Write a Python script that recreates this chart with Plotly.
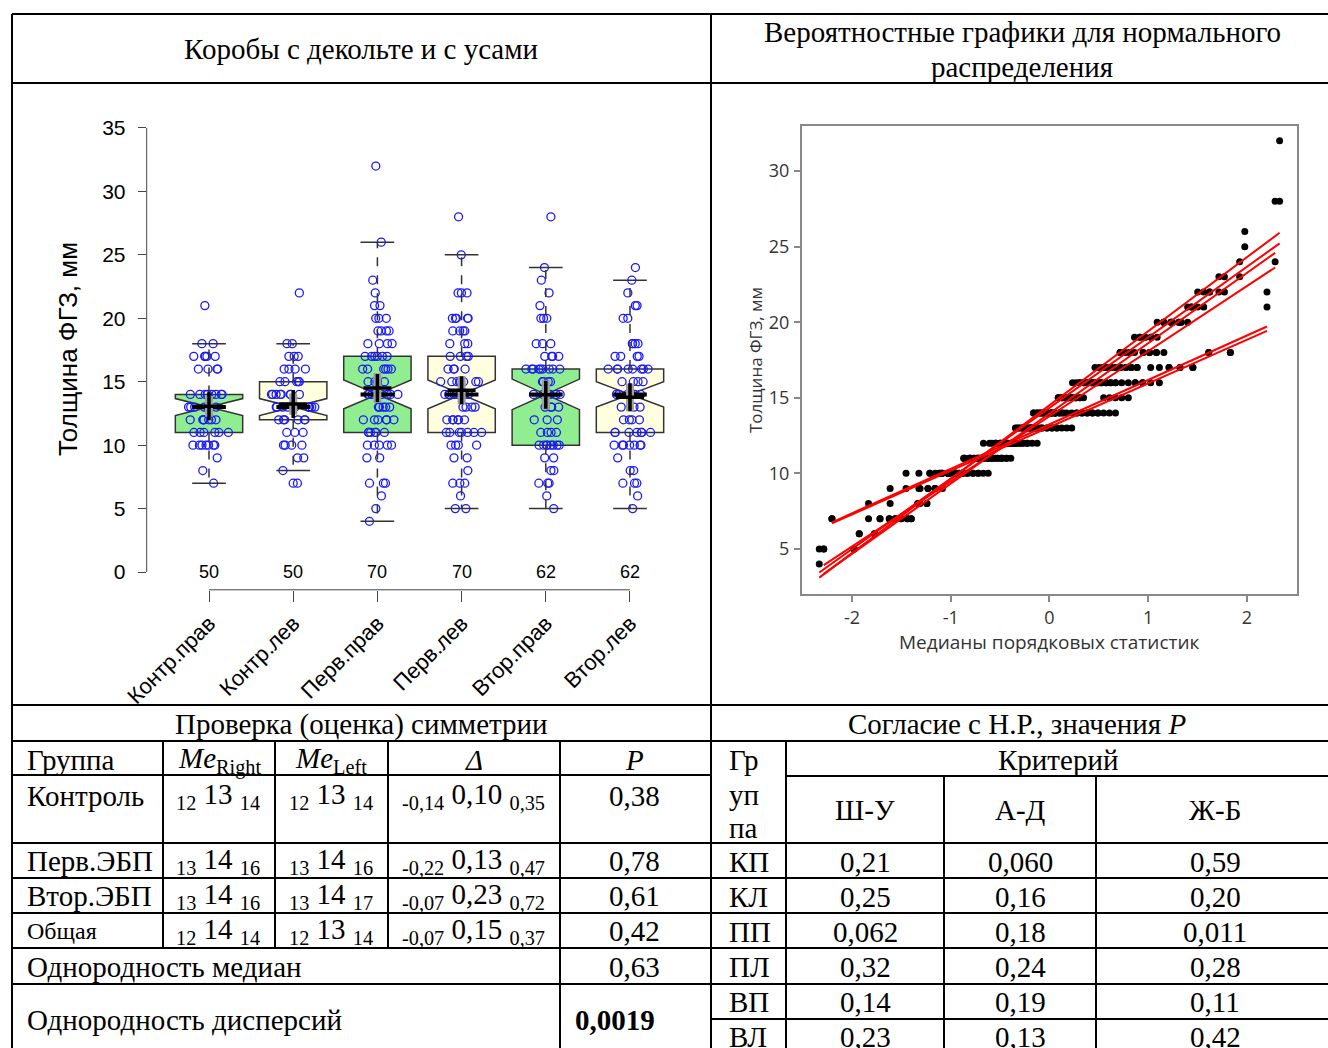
import math
from statistics import NormalDist
import plotly.graph_objects as go

W, H = 1328, 1048
def px(x): return x / W
def py(y): return 1 - y / H

# ---------------- data ----------------
groups = ["Контр.прав", "Контр.лев", "Перв.прав", "Перв.лев", "Втор.прав", "Втор.лев"]

kontr_prav = [7, 8, 9] + [10]*7 + [11]*6 + [12]*7 + [13]*7 + [14]*8 + [16]*4 + [17]*5 + [18]*2 + [21]
kontr_lev = [7, 7, 8, 9, 9] + [10]*4 + [11]*3 + [12]*6 + [13]*9 + [14]*8 + [15]*5 + [16]*4 + [17]*3 + [18]*2 + [22]
perv_prav = [4, 5, 6, 7, 7, 7, 9, 9] + [10]*5 + [11]*6 + [12]*6 + [13]*5 + [14]*7 + [15]*4 + [16]*6 + [17]*6 \
    + [18]*4 + [19]*4 + [20]*3 + [21]*2 + [22, 23, 26, 32]
perv_lev = [5, 5, 6, 7, 7, 7, 8, 9, 9] + [10]*4 + [11]*7 + [12]*6 + [13]*4 + [14]*7 + [15]*8 + [16]*4 + [17]*4 \
    + [18]*3 + [19]*4 + [20]*5 + [22]*3 + [25, 28]
vtor_prav = [5, 6, 7, 7, 7, 8, 8, 9, 9] + [10]*8 + [11]*4 + [12]*3 + [13]*4 + [14]*6 + [15]*4 + [16]*9 + [17]*4 \
    + [18]*3 + [20]*3 + [21, 22, 23, 24, 28]
vtor_lev = [5, 6, 7, 7, 7, 8, 8, 9] + [10]*7 + [11]*7 + [12]*4 + [13]*3 + [14]*6 + [15]*4 + [16]*8 + [17]*4 \
    + [18]*4 + [20]*2 + [21]*2 + [22, 23, 24]

values = [kontr_prav, kontr_lev, perv_prav, perv_lev, vtor_prav, vtor_lev]
counts = [len(v) for v in values]

y_ticks = [0, 5, 10, 15, 20, 25, 30, 35]
qq_xticks = [-2, -1, 0, 1, 2]
qq_yticks = [5, 10, 15, 20, 25, 30]

# table texts
header_left = "Коробы с декольте и с усами"
header_right = ["Вероятностные графики для нормального", "распределения"]
sym_title = "Проверка (оценка) симметрии"
sym_cols = ["Группа", "<i>Me</i><sub>Right</sub>", "<i>Me</i><sub>Left</sub>", "<i>Δ</i>", "<i>P</i>"]
sym_groups = ["Контроль", "Перв.ЭБП", "Втор.ЭБП", "Общая"]
me_right = [("12", "13", "14"), ("13", "14", "16"), ("13", "14", "16"), ("12", "14", "14")]
me_left = [("12", "13", "14"), ("13", "14", "16"), ("13", "14", "17"), ("12", "13", "14")]
delta = [("-0,14", "0,10", "0,35"), ("-0,22", "0,13", "0,47"), ("-0,07", "0,23", "0,72"), ("-0,07", "0,15", "0,37")]
p_sym = ["0,38", "0,78", "0,61", "0,42"]
hom_median_label, hom_median_p = "Однородность медиан", "0,63"
hom_disp_label, hom_disp_p = "Однородность дисперсий", "0,0019"

norm_title = "Согласие с Н.Р., значения <i>P</i>"
norm_crit = "Критерий"
norm_cols = ["Ш-У", "А-Д", "Ж-Б"]
norm_groups = ["КП", "КЛ", "ПП", "ПЛ", "ВП", "ВЛ"]
p_sw = ["0,21", "0,25", "0,062", "0,32", "0,14", "0,23"]
p_ad = ["0,060", "0,16", "0,18", "0,24", "0,19", "0,13"]
p_jb = ["0,59", "0,20", "0,011", "0,28", "0,11", "0,42"]

# ---------------- statistics ----------------
def fivenum(v):
    s = sorted(v); n = len(s)
    n4 = math.floor((n + 3) / 2) / 2
    d = [1, n4, (n + 1) / 2, n + 1 - n4, n]
    return [0.5 * (s[math.floor(di) - 1] + s[math.ceil(di) - 1]) for di in d]

stats = []
for v in values:
    n = len(v)
    _, q1, med, q3, _ = fivenum(v)
    iqr = q3 - q1
    lo = min(x for x in v if x >= q1 - 1.5 * iqr)
    hi = max(x for x in v if x <= q3 + 1.5 * iqr)
    mean = sum(v) / n
    sd = math.sqrt(sum((x - mean) ** 2 for x in v) / (n - 1))
    z = 1.959964
    t = z + (z ** 3 + z) / (4 * (n - 1))
    ci = t * sd / math.sqrt(n)
    stats.append(dict(n=n, q1=q1, med=med, q3=q3, lo=lo, hi=hi, mean=mean, sd=sd,
                      ci=ci, notch=1.58 * iqr / math.sqrt(n)))

fig = go.Figure()

# ---------------- box plot ----------------
BW = 0.8
for idxs, col in [([0, 2, 4], "#90EE90"), ([1, 3, 5], "#FFFFE0")]:
    fig.add_trace(go.Box(
        x=[i + 1 for i in idxs],
        q1=[stats[i]["q1"] for i in idxs], median=[stats[i]["med"] for i in idxs],
        q3=[stats[i]["q3"] for i in idxs],
        lowerfence=[stats[i]["q1"] for i in idxs], upperfence=[stats[i]["q3"] for i in idxs],
        notchspan=[stats[i]["notch"] for i in idxs], notched=True, notchwidth=0.5,
        width=BW, fillcolor=col, line=dict(color="#333333", width=1.5),
        boxpoints=False, hoverinfo="skip", showlegend=False, xaxis="x", yaxis="y"))

# raw points, jittered by plotly
px_list, py_list = [], []
for i, v in enumerate(values):
    px_list += [i + 1] * len(v)
    py_list += v
fig.add_trace(go.Box(
    x=px_list, y=py_list, boxpoints="all", jitter=0.65, pointpos=0, width=BW,
    fillcolor="rgba(0,0,0,0)", line=dict(width=0, color="rgba(0,0,0,0)"),
    marker=dict(symbol="circle-open", size=8, color="#1a1aff", line=dict(width=1.3, color="#1a1aff")),
    hoverinfo="skip", showlegend=False, xaxis="x", yaxis="y"))

# whiskers (dashed) and caps
wx, wy, cx, cy = [], [], [], []
for i, s in enumerate(stats):
    xi = i + 1
    wx += [xi, xi, None, xi, xi, None]
    wy += [s["q3"], s["hi"], None, s["q1"], s["lo"], None]
    cx += [xi - BW / 4, xi + BW / 4, None, xi - BW / 4, xi + BW / 4, None]
    cy += [s["hi"], s["hi"], None, s["lo"], s["lo"], None]
fig.add_trace(go.Scatter(x=wx, y=wy, mode="lines", line=dict(color="#333333", width=1.5, dash="dash"),
                         hoverinfo="skip", showlegend=False, xaxis="x", yaxis="y"))
fig.add_trace(go.Scatter(x=cx, y=cy, mode="lines", line=dict(color="#333333", width=1.5),
                         hoverinfo="skip", showlegend=False, xaxis="x", yaxis="y"))

# thick medians
mx, my = [], []
for i, s in enumerate(stats):
    mx += [i + 1 - BW / 4, i + 1 + BW / 4, None]
    my += [s["med"], s["med"], None]
fig.add_trace(go.Scatter(x=mx, y=my, mode="lines", line=dict(color="black", width=4),
                         hoverinfo="skip", showlegend=False, xaxis="x", yaxis="y"))

# mean CI (gray) and mean cross
gx, gy = [], []
for i, s in enumerate(stats):
    gx += [i + 1, i + 1, None]
    gy += [s["mean"] - s["ci"], s["mean"] + s["ci"], None]
fig.add_trace(go.Scatter(x=gx, y=gy, mode="lines", line=dict(color="#a0a0a0", width=8),
                         hoverinfo="skip", showlegend=False, xaxis="x", yaxis="y"))
fig.add_trace(go.Scatter(x=[i + 1 for i in range(6)], y=[s["mean"] for s in stats], mode="markers",
                         marker=dict(symbol="cross-thin", size=20, color="black",
                                     line=dict(width=3.5, color="black")),
                         hoverinfo="skip", showlegend=False, xaxis="x", yaxis="y"))

# ---------------- normal probability plot ----------------
nd = NormalDist()
qx, qy, lx, ly = [], [], [], []
for v, s in zip(values, stats):
    srt = sorted(v); n = len(srt)
    mn = 0.5 ** (1 / n)
    ms = [1 - mn] + [(i - 0.3175) / (n + 0.365) for i in range(2, n)] + [mn]
    zs = [nd.inv_cdf(m) for m in ms]
    qx += zs; qy += srt
    lx += [zs[0], zs[-1], None]
    ly += [s["mean"] + s["sd"] * zs[0], s["mean"] + s["sd"] * zs[-1], None]
fig.add_trace(go.Scatter(x=qx, y=qy, mode="markers", marker=dict(color="black", size=7),
                         hoverinfo="skip", showlegend=False, xaxis="x2", yaxis="y2"))
fig.add_trace(go.Scatter(x=lx, y=ly, mode="lines", line=dict(color="#ff0000", width=2),
                         hoverinfo="skip", showlegend=False, xaxis="x2", yaxis="y2"))

# ---------------- layout ----------------
sans = "Liberation Sans"
serif = "Liberation Serif"
qqfont = "Open Sans"

fig.update_layout(
    width=W, height=H, autosize=False, margin=dict(l=0, r=0, t=0, b=0, pad=0, autoexpand=False),
    paper_bgcolor="white", plot_bgcolor="white", showlegend=False, boxmode="overlay",
    xaxis=dict(domain=[px(146.7), px(692.3)], range=[0.26, 6.74], anchor="y", automargin=False,
               tickmode="array", tickvals=[1, 2, 3, 4, 5, 6], ticktext=groups, tickangle=-45,
               ticks="outside", ticklen=11, tickcolor="#444", tickwidth=1,
               tickfont=dict(family=sans, size=22, color="black"),
               showgrid=False, zeroline=False, showline=False),
    yaxis=dict(domain=[py(589.8), py(110.2)], range=[-1.4, 36.4], anchor="x", automargin=False,
               tickmode="array", tickvals=y_ticks, ticks="outside", ticklen=8, tickcolor="#444",
               tickwidth=1, ticklabelstandoff=8,
               tickfont=dict(family=sans, size=21, color="black"),
               showgrid=False, zeroline=False, showline=False),
    xaxis2=dict(domain=[px(802), px(1297)], range=[-2.507, 2.508], anchor="y2", automargin=False,
                tickmode="array", tickvals=qq_xticks, ticktext=[str(t) for t in qq_xticks],
                ticks="outside", ticklen=6, tickcolor="#888", tickwidth=1.5, ticklabelstandoff=0,
                tickfont=dict(family=qqfont, size=18, color="#333"),
                showline=True, mirror=True, linecolor="#888", linewidth=2,
                showgrid=False, zeroline=False),
    yaxis2=dict(domain=[py(594), py(126)], range=[2.02, 32.98], anchor="x2", automargin=False,
                tickmode="array", tickvals=qq_yticks, ticks="outside", ticklen=6, tickcolor="#888",
                tickwidth=1.5, ticklabelstandoff=1, tickfont=dict(family=qqfont, size=18, color="#333"),
                showline=True, mirror=True, linecolor="#888", linewidth=2,
                showgrid=False, zeroline=False),
)

shapes = []
# box-plot axis lines (R style)
shapes.append(dict(type="line", xref="x domain", yref="y", x0=0, x1=0, y0=0, y1=35,
                   line=dict(color="#444", width=1)))
shapes.append(dict(type="line", xref="x", yref="y domain", x0=1, x1=6, y0=0, y1=0,
                   line=dict(color="#444", width=1)))

# table grid
hlines = [(14, 12, 1328), (83, 12, 1328), (705, 12, 1328), (741, 12, 1328),
          (775, 12, 711), (776, 786, 1328), (843, 12, 1328), (878, 12, 1328),
          (913, 12, 1328), (948, 12, 1328), (984, 12, 1328), (1019, 711, 1328)]
vlines = [(12, 14, 1048), (711, 14, 1048), (163, 741, 948), (275, 741, 948), (388, 741, 948),
          (560, 741, 1048), (786, 741, 1048), (944, 776, 1048), (1096, 776, 1048)]
for y, x0, x1 in hlines:
    shapes.append(dict(type="line", xref="paper", yref="paper", x0=px(x0), x1=px(x1),
                       y0=py(y), y1=py(y), line=dict(color="black", width=2)))
for x, y0, y1 in vlines:
    shapes.append(dict(type="line", xref="paper", yref="paper", x0=px(x), x1=px(x),
                       y0=py(y0), y1=py(y1), line=dict(color="black", width=2)))
fig.update_layout(shapes=shapes)

ann = []
def txt(t, x, y, size=29, family=serif, anchor="center", color="black", angle=0):
    ann.append(dict(text=t, x=px(x), y=py(y), xref="paper", yref="paper", showarrow=False,
                    xanchor=anchor, yanchor="middle", textangle=angle,
                    font=dict(family=family, size=size, color=color)))

# headers
txt(header_left, 361, 49)
txt(header_right[0], 1022, 32)
txt(header_right[1], 1022, 67)

# box plot labels
txt("Толщина ФГЗ, мм", 68, 349, size=26, family=sans, angle=-90)
for i, n in enumerate(counts):
    ann.append(dict(text=str(n), x=i + 1, y=py(572), xref="x", yref="paper", showarrow=False,
                    xanchor="center", yanchor="middle", font=dict(family=sans, size=18, color="black")))

# qq labels
txt("Медианы порядковых статистик", 1049, 642, size=19, family=qqfont, color="#333")
txt("Толщина ФГЗ, мм", 755, 360, size=17, family=qqfont, color="#333", angle=-90)

# symmetry table
txt(sym_title, 361, 724)
txt(sym_cols[0], 25, 760, anchor="left")
txt(sym_cols[1], 219, 760)
txt(sym_cols[2], 331, 760)
txt(sym_cols[3], 474, 760)
txt(sym_cols[4], 634, 760)
row_y = [796, 861, 896, 931]
def trio(a, b, c):
    return f"<sub>{a}</sub> {b} <sub>{c}</sub>"
for k in range(4):
    y = row_y[k]
    txt(sym_groups[k], 25, y, anchor="left", size=(24 if k == 3 else 29))
    txt(trio(*me_right[k]), 218, y)
    txt(trio(*me_left[k]), 331, y)
    txt(trio(*delta[k]), 473, y)
    txt(p_sym[k], 634, y)
txt(hom_median_label, 25, 967, anchor="left")
txt(hom_median_p, 634, 967)
txt(hom_disp_label, 25, 1020, anchor="left")
txt("<b>" + hom_disp_p + "</b>", 615, 1020)

# normality table
txt(norm_title, 1017, 724)
txt("Гр", 727, 760, anchor="left")
txt("уп", 727, 795, anchor="left")
txt("па", 727, 828, anchor="left")
txt(norm_crit, 1058, 760)
col_x = [865, 1020, 1215]
for j, c in enumerate(norm_cols):
    txt(c, col_x[j], 810)
ny = [862, 897, 932, 967, 1002, 1037]
for k in range(6):
    txt(norm_groups[k], 727, ny[k], anchor="left")
    txt(p_sw[k], col_x[0], ny[k])
    txt(p_ad[k], col_x[1], ny[k])
    txt(p_jb[k], col_x[2], ny[k])

fig.update_layout(annotations=ann)
fig.write_html("out.html")
